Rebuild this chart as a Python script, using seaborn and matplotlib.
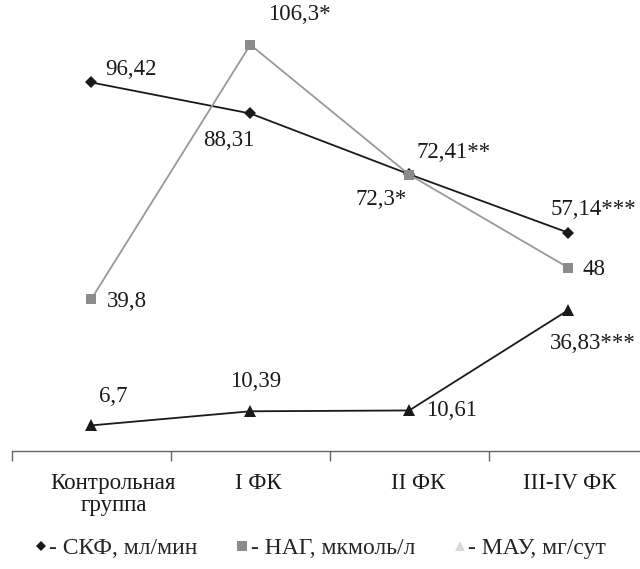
import pandas as pd
import matplotlib
matplotlib.use("Agg")
import matplotlib.pyplot as plt
from matplotlib.lines import Line2D
import seaborn as sns

# data
groups = ["Контрольная\nгруппа", "I ФК", "II ФК", "III-IV ФК"]
skf = [96.42, 88.31, 72.41, 57.14]
nag = [39.8, 106.3, 72.3, 48.0]
mau = [6.7, 10.39, 10.61, 36.83]
skf_labels = ["96,42", "88,31", "72,41**", "57,14***"]
nag_labels = ["39,8", "106,3*", "72,3*", "48"]
mau_labels = ["6,7", "10,39", "10,61", "36,83***"]

sns.set_style("white")
plt.rcParams["font.family"] = ["Liberation Serif", "DejaVu Serif"]

fig = plt.figure(figsize=(6.4, 5.69), dpi=100)
ax = fig.add_axes([12 / 640, 118 / 569, 635.5 / 640, 451 / 569])

x = list(range(len(groups)))
sns.lineplot(x=x, y=skf, ax=ax, color="#1a1a1a", lw=1.3, marker="D",
             markersize=6, markeredgewidth=0)
sns.lineplot(x=x, y=nag, ax=ax, color="#999999", lw=1.3, marker="s",
             markersize=7, markeredgewidth=0, markerfacecolor="#8c8c8c")
sns.lineplot(x=x, y=mau, ax=ax, color="#1a1a1a", lw=1.3, marker="^",
             markersize=8, markeredgewidth=0)

# label offsets in pixels (dx, dy, ha)
skf_off = [(14, 13, "left"), (-22, -27, "center"), (7, 22, "left"), (68, 23, "right")]
nag_off = [(15, -3, "left"), (18, 30, "left"), (-2, -25, "right"), (14, -2, "left")]
mau_off = [(8, 29, "left"), (-20, 30, "left"), (17, 0, "left"), (68, -33, "right")]

for vals, labs, offs in [(skf, skf_labels, skf_off), (nag, nag_labels, nag_off),
                         (mau, mau_labels, mau_off)]:
    for i, (v, t, (dx, dy, ha)) in enumerate(zip(vals, labs, offs)):
        ax.annotate(t, (i, v), xytext=(dx, dy), textcoords="offset pixels",
                    ha=ha, va="center", fontsize=16.5, color="#1a1a1a")

ax.set_xlim(-0.5, 3.5)
ax.set_ylim(0, 118)
# the reference's category names sit a little right of their points
label_shift = [22, 8, 9, 2]  # px, one category step is ~159 px
ax.set_xticks([i + s / 159 for i, s in zip(x, label_shift)])
ax.set_xticklabels(groups, fontsize=16.5, color="#1a1a1a", linespacing=1.05)
ax.set_xticks([-0.5, 0.5, 1.5, 2.5], minor=True)
ax.tick_params(axis="x", which="major", length=0, pad=16)
ax.tick_params(axis="x", which="minor", length=7, width=1, color="#666666",
               direction="out", bottom=True)
ax.set_yticks([])
for s in ["top", "right", "left"]:
    ax.spines[s].set_visible(False)
ax.spines["bottom"].set_color("#666666")
ax.spines["bottom"].set_linewidth(1)

handles = [
    Line2D([], [], ls="none", marker="D", markersize=5, color="#1a1a1a", markeredgewidth=0),
    Line2D([], [], ls="none", marker="s", markersize=7, color="#8c8c8c", markeredgewidth=0),
    Line2D([], [], ls="none", marker="^", markersize=7, color="#d9d9d9", markeredgewidth=0),
]
names = ["- СКФ, мл/мин", "- НАГ, мкмоль/л", "- МАУ, мг/сут"]
fig.legend(handles, names, loc="center", bbox_to_anchor=(0.5, 1 - 548 / 569),
           ncol=3, frameon=False, fontsize=17, handlelength=0.6,
           handletextpad=0.05, columnspacing=1.6)

fig.savefig("out.png", dpi=100)
